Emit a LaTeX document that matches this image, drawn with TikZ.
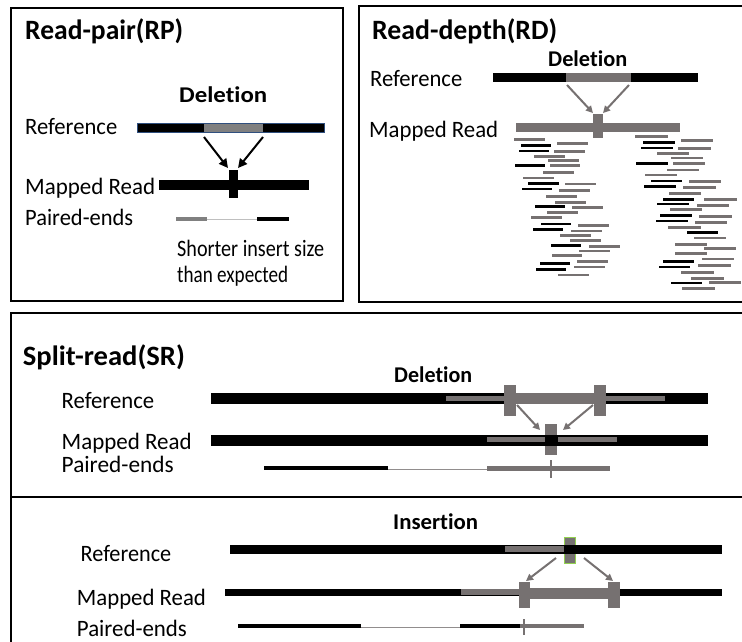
\documentclass[tikz,border=0pt]{standalone}
\usepackage{fontspec}
\setmainfont{Carlito}[Ligatures=NoCommon]
\usepackage{graphicx}
\usetikzlibrary{arrows.meta}
\definecolor{gr}{HTML}{767171}
\definecolor{grl}{HTML}{808080}
\definecolor{thinc}{HTML}{BFBFBF}
\definecolor{grn}{HTML}{92D050}
\definecolor{outl}{HTML}{2F4F7F}
\newcommand{\wt}[2]{\resizebox{#1pt}{\height}{#2}}
\tikzset{
 frame/.style={draw=black,line width=2.6pt},
 ttl/.style={anchor=base west,inner sep=0pt,font=\fontsize{28}{32}\selectfont\bfseries},
 hdl/.style={anchor=base west,inner sep=0pt,font=\fontsize{22.5}{26}\selectfont\bfseries},
 lbl/.style={anchor=base west,inner sep=0pt,font=\fontsize{23.5}{27}\selectfont},
 arrb/.style={draw=black,line width=2pt,-{Triangle[length=9pt,width=9pt]}},
 arrg/.style={draw=gr,line width=2pt,-{Triangle[length=7pt,width=7pt]}},
 rdblk/.style={draw=black,line width=2.8pt},
 rdgr/.style={draw=gr,line width=2.8pt},
 thinl/.style={draw=thinc,line width=1pt},
 thing/.style={draw=gr!80,line width=1pt},
 tick/.style={draw=gr,line width=1.5pt},
}
\begin{document}
\begin{tikzpicture}[x=1pt,y=-1pt]
\useasboundingbox (0,0) rectangle (742,641);
\clip (0,0) rectangle (742,641);
\fill[white] (0,0) rectangle (742,641);
% frames
\draw[frame] (11,8) rectangle (343,301);
\draw[frame] (359,6) rectangle (770,302);
\draw[frame] (11,313) rectangle (770,670);
\draw[frame] (11,497) -- (770,497);

% ---------- Read-pair ----------
\node[ttl] (rpT) at (25,39.5) {\wt{158}{Read-pair(RP)}};
\node[hdl] (rpDel) at (179,102.7) {\wt{88}{Deletion}};
\node[lbl] (rpRef) at (25,134) {\wt{92}{Reference}};
\node[lbl] (rpMap) at (25,194) {\wt{130}{Mapped Read}};
\node[lbl] (rpPE) at (25,225) {\wt{108}{Paired-ends}};
\node[lbl] (rpS1) at (177,256.7) {\wt{147}{Shorter insert size}};
\node[lbl] (rpS2) at (177,282.7) {\wt{111}{than expected}};
\fill[black,draw=outl,line width=0.6pt] (137,123.5) rectangle (324.5,132.5);
\fill[grl] (204,124) rectangle (263,132);
\fill[black] (159,180) rectangle (309,190);
\fill[black] (229,170) rectangle (238,198);
\coordinate (rpA1) at (204,137); \coordinate (rpB1) at (228,168);
\coordinate (rpA2) at (263,137); \coordinate (rpB2) at (238,168);
\draw[arrb] (rpA1) -- (rpB1);
\draw[arrb] (rpA2) -- (rpB2);
\fill[grl] (176,217) rectangle (207,221);
\coordinate (rpL1) at (207,219.5); \coordinate (rpL2) at (257,219.5);
\draw[thinl] (rpL1) -- (rpL2);
\fill[black] (257,217) rectangle (289,221);

% ---------- Read-depth ----------
\node[ttl] (rdT) at (372,39.3) {\wt{185}{Read-depth(RD)}};
\node[hdl] (rdDel) at (548,66.7) {\wt{79}{Deletion}};
\node[lbl] (rdRef) at (370,86) {\wt{92}{Reference}};
\node[lbl] (rdMap) at (369,137.3) {\wt{129}{Mapped Read}};
\fill[black] (493,73) rectangle (698,82);
\fill[gr] (566,73) rectangle (631,82);
\fill[gr] (516,123) rectangle (680,131.5);
\fill[gr] (593,114) rectangle (603,138);
\coordinate (rdA1) at (567,85); \coordinate (rdB1) at (593,113);
\coordinate (rdA2) at (629,85); \coordinate (rdB2) at (603,113);
\draw[arrg] (rdA1) -- (rdB1);
\draw[arrg] (rdA2) -- (rdB2);
\foreach \a/\b/\y in {514/545/139.3, 557/588/143.7, 554/585/151.3, 534/565/156.3, 548/579/160.7, 550/580/165.7, 543/574/172.7, 523/554/178, 565/596/184, 559/590/190.3, 546/577/196.7, 555/586/202.3, 572/603/207.7, 547/578/212.3, 531/562/217.7, 578/609/225.3, 571/602/231, 560/591/235.7, 570/601/240.7, 589/620/246.7, 579/610/251, 552/582/255.7, 577/608/261.3, 574/605/267, 558/589/275,
635/668/136.7, 681/713/140.7, 678/711/148.3, 657/689/153.7, 671/703/158, 673/705/163.3, 667/699/170, 645/677/175, 689/721/181.3, 683/716/187.3, 669/701/193.7, 704/737/199.7, 697/729/205.3, 670/702/209.7, 699/732/216.3, 695/727/222.3, 668/701/227.7, 694/726/238, 675/707/244.3, 704/736/248.7, 675/707/253.3, 702/734/259, 698/731/265.3, 681/714/272.7, 691/724/278.3, 709/741/282.7, 682/715/288.7}
  \draw[rdgr] (\a,\y) -- (\b,\y);
\foreach \a/\b/\y in {521/551/145.7, 519/549/151, 515/545/165.7, 528/559/183.3, 522/552/189, 535/565/206.3, 541/571/224, 533/563/229.7, 551/581/245.7, 540/570/263.7, 536/566/269.3,
643/675/142.7, 641/673/148, 636/668/163.3, 651/682/181, 644/676/186.3, 663/694/199.7, 657/689/204, 660/692/215.3, 656/688/221, 687/718/232.7, 663/694/261.7, 659/690/267, 671/702/283}
  \draw[rdblk] (\a,\y) -- (\b,\y);

% ---------- Split-read: deletion ----------
\node[ttl] (srT) at (22.7,365.7) {\wt{162}{Split-read(SR)}};
\node[hdl] (srDel) at (394,382.7) {\wt{78}{Deletion}};
\node[lbl] (srRef) at (61.5,408.3) {\wt{92.5}{Reference}};
\node[lbl] (srMap) at (61.5,449.3) {\wt{130}{Mapped Read}};
\node[lbl] (srPE) at (61.5,472.7) {\wt{112}{Paired-ends}};
\fill[black] (210.6,392.5) rectangle (707.5,403.5);
\fill[gr] (446,396) rectangle (665,401);
\fill[gr] (516,392.5) rectangle (594,403.5);
\fill[gr] (504,385) rectangle (516,416);
\fill[gr] (594,385) rectangle (606,416);
\fill[gr] (545,423.5) rectangle (557,454.5);
\fill[black] (210.6,434.5) rectangle (707.5,446);
\fill[gr] (487,437) rectangle (545,442);
\fill[gr] (558,437) rectangle (617,442);
\coordinate (srA1) at (517,405); \coordinate (srB1) at (540,430);
\coordinate (srA2) at (593,405); \coordinate (srB2) at (563,430);
\draw[arrg] (srA1) -- (srB1);
\draw[arrg] (srA2) -- (srB2);
\fill[black] (264,465.5) rectangle (388,470);
\coordinate (srL1) at (388,469); \coordinate (srL2) at (487,469);
\draw[thing] (srL1) -- (srL2);
\fill[gr] (487,466) rectangle (610,470.5);
\coordinate (srK1) at (551,460); \coordinate (srK2) at (551,478);
\draw[tick] (srK1) -- (srK2);

% ---------- Split-read: insertion ----------
\node[hdl] (inIns) at (393,529.3) {\wt{85}{Insertion}};
\node[lbl] (inRef) at (80.5,561.7) {\wt{90.5}{Reference}};
\node[lbl] (inMap) at (76.7,605) {\wt{129}{Mapped Read}};
\node[lbl] (inPE) at (76.7,636) {\wt{110}{Paired-ends}};
\filldraw[fill=gr,draw=grn,line width=1pt] (564,537) rectangle (575.5,563);
\fill[black] (229.5,545) rectangle (722,553.5);
\fill[gr] (505,546) rectangle (564,551.5);
\fill[black] (225,588.5) rectangle (722,596);
\fill[gr] (461,589) rectangle (520,594.5);
\fill[gr] (530,588) rectangle (608,599);
\fill[gr] (519,582) rectangle (530,607.5);
\fill[gr] (608,582) rectangle (619.5,607.5);
\coordinate (inA1) at (556,558); \coordinate (inB1) at (526,581);
\coordinate (inA2) at (584,558); \coordinate (inB2) at (613,581);
\draw[arrg] (inA1) -- (inB1);
\draw[arrg] (inA2) -- (inB2);
\fill[black] (237.6,624) rectangle (360.6,628);
\coordinate (inL1) at (360.6,627); \coordinate (inL2) at (460,627);
\draw[thing] (inL1) -- (inL2);
\fill[black] (460,624) rectangle (520,628);
\fill[gr] (520,624) rectangle (584,628);
\coordinate (inK1) at (524,619); \coordinate (inK2) at (524,635);
\draw[tick] (inK1) -- (inK2);
\end{tikzpicture}
\end{document}
